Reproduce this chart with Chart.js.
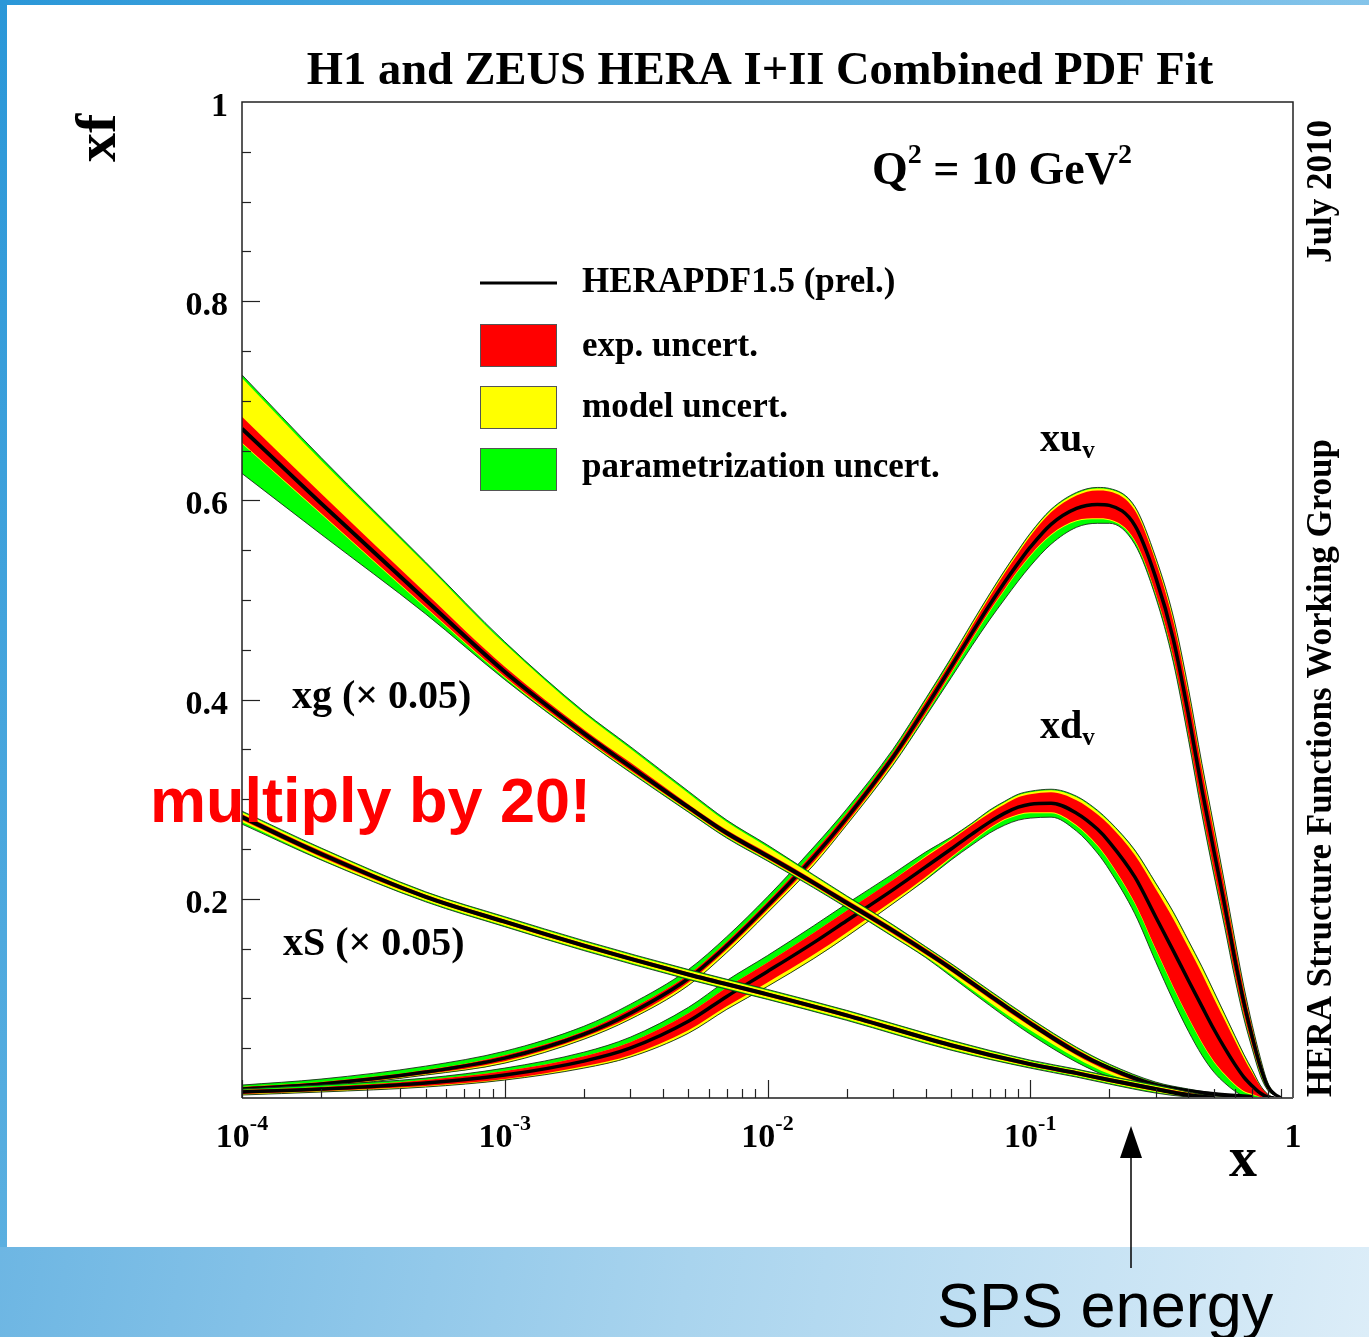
<!DOCTYPE html>
<html><head><meta charset="utf-8">
<script src="https://cdn.jsdelivr.net/npm/chart.js@4.4.1/dist/chart.umd.min.js"></script>
<style>
html,body{margin:0;padding:0;width:1369px;height:1337px;overflow:hidden;background:#fff;}
#bgTop{position:absolute;left:0;top:0;width:1369px;height:5px;background:linear-gradient(90deg,#2a97d8,#84c4ea);}
#bgLeft{position:absolute;left:0;top:0;width:7px;height:1247px;background:linear-gradient(180deg,#2a97d8,#5aafe0);}
#bgBottom{position:absolute;left:0;top:1247px;width:1369px;height:90px;background:linear-gradient(100deg,#6db6e3 0%,#a9d4ee 50%,#dcedf8 100%);}
#wrap{position:absolute;left:0;top:0;width:1369px;height:1337px;}
</style></head><body>
<div id="bgTop"></div><div id="bgLeft"></div><div id="bgBottom"></div>
<div id="wrap"><canvas id="c" width="1369" height="1337"></canvas></div>
<script>
// ---------------- data ----------------
// central values and uncertainty widths (exp = red, model = yellow, parametrization = green)
// xu_v
const xuvX      = [1e-4, 2e-4, 5e-4, 1e-3, 2e-3, 3e-3, 5e-3, 7e-3, 0.01, 0.015, 0.02, 0.03, 0.04, 0.05, 0.06, 0.07, 0.08, 0.09, 0.1, 0.12, 0.15, 0.18, 0.2, 0.25, 0.3, 0.35, 0.4, 0.45, 0.5, 0.55, 0.6, 0.65, 0.7, 0.75, 0.8, 0.85, 0.9];
const xuvC      = [0.009, 0.014, 0.026, 0.040, 0.064, 0.085, 0.120, 0.153, 0.193, 0.242, 0.281, 0.342, 0.392, 0.433, 0.467, 0.495, 0.518, 0.537, 0.553, 0.576, 0.592, 0.596, 0.595, 0.575, 0.523, 0.461, 0.385, 0.310, 0.248, 0.193, 0.140, 0.096, 0.061, 0.032, 0.012, 0.004, 0.000];
const xuvExpUp  = [0.002, 0.002, 0.002, 0.003, 0.003, 0.004, 0.004, 0.004, 0.004, 0.005, 0.005, 0.005, 0.006, 0.006, 0.007, 0.008, 0.009, 0.010, 0.011, 0.012, 0.013, 0.014, 0.014, 0.015, 0.016, 0.018, 0.020, 0.020, 0.019, 0.017, 0.015, 0.012, 0.009, 0.006, 0.003, 0.001, 0.000];
const xuvExpDn  = [0.002, 0.002, 0.002, 0.003, 0.003, 0.004, 0.004, 0.004, 0.004, 0.005, 0.005, 0.005, 0.006, 0.006, 0.006, 0.006, 0.007, 0.007, 0.008, 0.010, 0.012, 0.014, 0.014, 0.015, 0.016, 0.018, 0.020, 0.020, 0.019, 0.017, 0.015, 0.012, 0.009, 0.006, 0.003, 0.001, 0.000];
const xuvModUp  = [0.000, 0.000, 0.000, 0.000, 0.000, 0.000, 0.000, 0.000, 0.000, 0.000, 0.000, 0.000, 0.001, 0.001, 0.002, 0.002, 0.002, 0.002, 0.002, 0.002, 0.002, 0.002, 0.002, 0.003, 0.003, 0.004, 0.005, 0.005, 0.005, 0.004, 0.004, 0.003, 0.002, 0.002, 0.001, 0.000, 0.000];
const xuvModDn  = [0.001, 0.001, 0.001, 0.002, 0.002, 0.002, 0.003, 0.003, 0.003, 0.003, 0.002, 0.002, 0.001, 0.001, 0.001, 0.001, 0.001, 0.001, 0.001, 0.001, 0.001, 0.001, 0.001, 0.001, 0.001, 0.001, 0.001, 0.001, 0.001, 0.001, 0.001, 0.001, 0.001, 0.001, 0.000, 0.000, 0.000];
const xuvParUp  = [0.002, 0.003, 0.004, 0.004, 0.005, 0.005, 0.005, 0.005, 0.005, 0.005, 0.004, 0.003, 0.002, 0.002, 0.001, 0.001, 0.001, 0.001, 0.001, 0.001, 0.001, 0.001, 0.001, 0.001, 0.001, 0.001, 0.001, 0.001, 0.001, 0.001, 0.001, 0.001, 0.001, 0.001, 0.000, 0.000, 0.000];
const xuvParDn  = [0.000, 0.000, 0.000, 0.000, 0.000, 0.000, 0.000, 0.000, 0.000, 0.000, 0.000, 0.001, 0.002, 0.004, 0.006, 0.008, 0.009, 0.010, 0.010, 0.009, 0.006, 0.004, 0.003, 0.003, 0.003, 0.004, 0.004, 0.004, 0.004, 0.004, 0.003, 0.003, 0.002, 0.002, 0.001, 0.000, 0.000];

// xd_v
const xdvX      = [1e-4, 2e-4, 5e-4, 1e-3, 2e-3, 3e-3, 5e-3, 7e-3, 0.01, 0.015, 0.02, 0.03, 0.04, 0.05, 0.06, 0.07, 0.08, 0.09, 0.1, 0.12, 0.15, 0.18, 0.2, 0.25, 0.3, 0.35, 0.4, 0.45, 0.5, 0.55, 0.6, 0.65, 0.7, 0.75, 0.8, 0.85];
const xdvC      = [0.006, 0.009, 0.015, 0.023, 0.037, 0.050, 0.077, 0.102, 0.127, 0.156, 0.178, 0.209, 0.232, 0.250, 0.265, 0.277, 0.286, 0.292, 0.295, 0.296, 0.286, 0.270, 0.257, 0.222, 0.182, 0.148, 0.118, 0.092, 0.069, 0.050, 0.034, 0.021, 0.012, 0.005, 0.001, 0.000];
const xdvExpUp  = [0.002, 0.002, 0.003, 0.004, 0.005, 0.006, 0.008, 0.009, 0.009, 0.010, 0.010, 0.010, 0.010, 0.009, 0.009, 0.009, 0.009, 0.010, 0.010, 0.011, 0.013, 0.015, 0.017, 0.022, 0.028, 0.032, 0.033, 0.033, 0.031, 0.028, 0.024, 0.019, 0.013, 0.007, 0.003, 0.000];
const xdvExpDn  = [0.002, 0.002, 0.003, 0.004, 0.005, 0.007, 0.009, 0.010, 0.011, 0.012, 0.012, 0.011, 0.010, 0.008, 0.007, 0.006, 0.006, 0.007, 0.008, 0.009, 0.012, 0.016, 0.019, 0.026, 0.032, 0.036, 0.037, 0.036, 0.032, 0.026, 0.020, 0.014, 0.008, 0.004, 0.001, 0.000];
const xdvModUp  = [0.000, 0.000, 0.000, 0.000, 0.000, 0.000, 0.000, 0.000, 0.000, 0.000, 0.000, 0.000, 0.001, 0.001, 0.001, 0.002, 0.002, 0.002, 0.002, 0.002, 0.003, 0.003, 0.003, 0.004, 0.005, 0.006, 0.006, 0.006, 0.006, 0.005, 0.004, 0.003, 0.002, 0.001, 0.000, 0.000];
const xdvModDn  = [0.001, 0.001, 0.001, 0.001, 0.002, 0.002, 0.003, 0.003, 0.004, 0.004, 0.004, 0.003, 0.002, 0.001, 0.001, 0.001, 0.001, 0.001, 0.001, 0.001, 0.001, 0.001, 0.001, 0.001, 0.001, 0.001, 0.001, 0.001, 0.001, 0.001, 0.001, 0.001, 0.001, 0.000, 0.000, 0.000];
const xdvParUp  = [0.001, 0.002, 0.002, 0.003, 0.004, 0.005, 0.006, 0.007, 0.007, 0.007, 0.007, 0.006, 0.004, 0.002, 0.001, 0.001, 0.001, 0.001, 0.001, 0.001, 0.001, 0.001, 0.001, 0.001, 0.001, 0.001, 0.001, 0.001, 0.001, 0.001, 0.001, 0.001, 0.001, 0.000, 0.000, 0.000];
const xdvParDn  = [0.000, 0.000, 0.000, 0.000, 0.000, 0.000, 0.000, 0.000, 0.000, 0.000, 0.000, 0.000, 0.001, 0.002, 0.003, 0.004, 0.005, 0.005, 0.005, 0.004, 0.005, 0.007, 0.008, 0.010, 0.012, 0.013, 0.013, 0.012, 0.010, 0.008, 0.006, 0.004, 0.002, 0.001, 0.000, 0.000];

// xg (x 0.05)
const xgX       = [1e-4, 2e-4, 5e-4, 1e-3, 2e-3, 3e-3, 5e-3, 7e-3, 0.01, 0.015, 0.02, 0.03, 0.04, 0.05, 0.07, 0.1, 0.15, 0.2, 0.3, 0.4, 0.5, 0.7];
const xgC       = [0.672, 0.597, 0.500, 0.428, 0.366, 0.333, 0.292, 0.266, 0.243, 0.216, 0.196, 0.168, 0.147, 0.130, 0.103, 0.075, 0.046, 0.030, 0.013, 0.007, 0.004, 0.001];
const xgExpUp   = [0.012, 0.010, 0.007, 0.005, 0.004, 0.004, 0.003, 0.003, 0.003, 0.003, 0.003, 0.003, 0.003, 0.003, 0.003, 0.003, 0.003, 0.002, 0.002, 0.001, 0.001, 0.000];
const xgExpDn   = [0.014, 0.010, 0.007, 0.005, 0.004, 0.004, 0.003, 0.003, 0.003, 0.003, 0.003, 0.003, 0.003, 0.003, 0.003, 0.003, 0.003, 0.003, 0.002, 0.001, 0.001, 0.001];
const xgModUp   = [0.039, 0.033, 0.029, 0.023, 0.016, 0.014, 0.011, 0.008, 0.006, 0.004, 0.003, 0.002, 0.001, 0.001, 0.001, 0.001, 0.001, 0.001, 0.000, 0.000, 0.000, 0.000];
const xgModDn   = [0.001, 0.001, 0.001, 0.001, 0.001, 0.001, 0.001, 0.001, 0.001, 0.001, 0.001, 0.002, 0.002, 0.003, 0.004, 0.004, 0.003, 0.003, 0.001, 0.001, 0.001, 0.000];
const xgParUp   = [0.003, 0.003, 0.002, 0.002, 0.002, 0.002, 0.002, 0.002, 0.002, 0.001, 0.001, 0.001, 0.001, 0.001, 0.001, 0.001, 0.001, 0.001, 0.001, 0.001, 0.000, 0.000];
const xgParDn   = [0.030, 0.020, 0.006, 0.002, 0.001, 0.001, 0.001, 0.001, 0.001, 0.001, 0.001, 0.001, 0.001, 0.002, 0.003, 0.004, 0.004, 0.003, 0.002, 0.001, 0.000, 0.000];

// xS (x 0.05)
const xsX       = [1e-4, 2e-4, 5e-4, 1e-3, 2e-3, 5e-3, 0.01, 0.02, 0.05, 0.1, 0.15, 0.2, 0.3, 0.4, 0.5];
const xsC       = [0.282, 0.245, 0.202, 0.177, 0.153, 0.124, 0.104, 0.083, 0.053, 0.034, 0.025, 0.018, 0.009, 0.003, 0.000];
const xsExpUp   = [0.003, 0.003, 0.002, 0.002, 0.002, 0.002, 0.002, 0.002, 0.002, 0.002, 0.002, 0.002, 0.002, 0.002, 0.001];
const xsExpDn   = [0.003, 0.003, 0.002, 0.002, 0.002, 0.002, 0.002, 0.002, 0.002, 0.002, 0.002, 0.002, 0.002, 0.001, 0.000];
const xsModUp   = [0.002, 0.002, 0.002, 0.002, 0.002, 0.002, 0.002, 0.002, 0.002, 0.001, 0.001, 0.001, 0.001, 0.001, 0.000];
const xsModDn   = [0.002, 0.002, 0.002, 0.002, 0.002, 0.002, 0.002, 0.002, 0.002, 0.001, 0.001, 0.001, 0.001, 0.001, 0.000];
const xsParUp   = [0.001, 0.001, 0.001, 0.001, 0.001, 0.001, 0.001, 0.001, 0.001, 0.001, 0.001, 0.001, 0.001, 0.000, 0.000];
const xsParDn   = [0.002, 0.001, 0.001, 0.001, 0.001, 0.001, 0.001, 0.001, 0.001, 0.001, 0.001, 0.001, 0.001, 0.000, 0.000];

// axes / ticks
const yTickValues = [0.2, 0.4, 0.6, 0.8, 1];
const yTickLabels = ['0.2', '0.4', '0.6', '0.8', '1'];
const xTickValues = [1e-4, 1e-3, 1e-2, 1e-1, 1];
const xTickBase   = ['10', '10', '10', '10', '1'];
const xTickExp    = ['-4', '-3', '-2', '-1', ''];

// texts
const titleText   = 'H1 and ZEUS HERA I+II Combined PDF Fit';
const legendTexts = ['HERAPDF1.5 (prel.)', 'exp. uncert.', 'model uncert.', 'parametrization uncert.'];
const sideTexts   = ['July 2010', 'HERA Structure Functions Working Group'];

// ---------------- build datasets ----------------
const RED = '#ff0000', YEL = '#ffff00', GRN = '#00ff00', EDGE = 'rgba(25,45,25,0.9)';
const curves = [
  {x: xuvX, c: xuvC, eu: xuvExpUp, ed: xuvExpDn, mu: xuvModUp, md: xuvModDn, pu: xuvParUp, pd: xuvParDn, w: 3.5},
  {x: xdvX, c: xdvC, eu: xdvExpUp, ed: xdvExpDn, mu: xdvModUp, md: xdvModDn, pu: xdvParUp, pd: xdvParDn, w: 3.5},
  {x: xgX,  c: xgC,  eu: xgExpUp,  ed: xgExpDn,  mu: xgModUp,  md: xgModDn,  pu: xgParUp,  pd: xgParDn,  w: 4},
  {x: xsX,  c: xsC,  eu: xsExpUp,  ed: xsExpDn,  mu: xsModUp,  md: xsModDn,  pu: xsParUp,  pd: xsParDn,  w: 4}
];
const datasets = [];
let seq = 0;
function pts(xs, ys) { return xs.map((x, i) => ({x: x, y: ys[i]})); }
function addLine(xs, ys, color, width, fillTarget, fillColor) {
  datasets.push({
    data: pts(xs, ys),
    borderColor: width > 0 ? color : 'rgba(0,0,0,0)',
    borderWidth: width > 0 ? width : 0.01,
    pointRadius: 0, pointHoverRadius: 0,
    cubicInterpolationMode: 'monotone',
    fill: fillTarget === undefined ? false : fillTarget,
    backgroundColor: fillColor || 'rgba(0,0,0,0)',
    order: 10000 - (seq++)
  });
  return datasets.length - 1;
}
curves.forEach(cv => {
  // stacked band edges: exp around central, model outside exp, parametrization outside model
  const rHi = cv.c.map((v, i) => v + cv.eu[i]);
  const rLo = cv.c.map((v, i) => v - cv.ed[i]);
  const yHi = rHi.map((v, i) => v + cv.mu[i]);
  const yLo = rLo.map((v, i) => v - cv.md[i]);
  const gHi = yHi.map((v, i) => v + cv.pu[i]);
  const gLo = yLo.map((v, i) => v - cv.pd[i]);
  const g = addLine(cv.x, gLo, null, 0);
  addLine(cv.x, gHi, null, 0, g, GRN);
  const y = addLine(cv.x, yLo, null, 0);
  addLine(cv.x, yHi, null, 0, y, YEL);
  const r = addLine(cv.x, rLo, null, 0);
  addLine(cv.x, rHi, null, 0, r, RED);
  addLine(cv.x, gLo, EDGE, 1);
  addLine(cv.x, gHi, EDGE, 1);
  addLine(cv.x, cv.c, '#000000', cv.w);
});

// ---------------- decorations ----------------
const SERIF = '"Liberation Serif","Times New Roman",Times,serif';
const SANS  = '"Liberation Sans",Arial,Helvetica,sans-serif';

function drawParts(ctx, parts, x, y, align) {
  let w = 0;
  parts.forEach(p => { ctx.font = 'bold ' + p.size + 'px ' + SERIF; p.w = ctx.measureText(p.t).width; w += p.w; });
  let cx = align === 'center' ? x - w / 2 : (align === 'right' ? x - w : x);
  ctx.textAlign = 'left'; ctx.textBaseline = 'alphabetic';
  parts.forEach(p => { ctx.font = 'bold ' + p.size + 'px ' + SERIF; ctx.fillText(p.t, cx, y + (p.dy || 0)); cx += p.w; });
}
function rotText(ctx, s, x, y, font) {
  ctx.save(); ctx.translate(x, y); ctx.rotate(-Math.PI / 2);
  ctx.font = font; ctx.textAlign = 'left'; ctx.textBaseline = 'alphabetic';
  ctx.fillText(s, 0, 0); ctx.restore();
}

const deco = {
  id: 'deco',
  afterDraw(chart) {
    const ctx = chart.ctx, xs = chart.scales.x, ys = chart.scales.y, a = chart.chartArea;
    ctx.save();
    ctx.fillStyle = '#000';
    // frame
    ctx.strokeStyle = '#222'; ctx.lineWidth = 1.5;
    ctx.beginPath(); ctx.moveTo(a.left, a.bottom); ctx.lineTo(a.left, a.top); ctx.lineTo(a.right, a.top); ctx.lineTo(a.right, a.bottom); ctx.stroke();
    ctx.strokeStyle = '#555'; ctx.lineWidth = 2;
    ctx.beginPath(); ctx.moveTo(a.left, a.bottom); ctx.lineTo(a.right, a.bottom); ctx.stroke();
    // y ticks
    ctx.strokeStyle = '#222'; ctx.lineWidth = 1.2;
    for (let k = 1; k < 20; k++) {
      const v = k * 0.05, py = Math.round(ys.getPixelForValue(v)) + 0.5;
      const len = (k % 4 === 0) ? 18 : 9;
      ctx.beginPath(); ctx.moveTo(a.left, py); ctx.lineTo(a.left + len, py); ctx.stroke();
    }
    // x ticks
    for (let d = -4; d < 0; d++) {
      for (let m = 1; m < 10; m++) {
        const v = m * Math.pow(10, d), px = Math.round(xs.getPixelForValue(v)) + 0.5;
        const len = m === 1 ? 18 : 9;
        ctx.beginPath(); ctx.moveTo(px, a.bottom); ctx.lineTo(px, a.bottom - len); ctx.stroke();
      }
    }
    // y tick labels
    ctx.font = 'bold 34px ' + SERIF; ctx.textAlign = 'right'; ctx.textBaseline = 'alphabetic';
    yTickValues.forEach((v, i) => { ctx.fillText(yTickLabels[i], 228, ys.getPixelForValue(v) + 14); });
    // x tick labels
    xTickValues.forEach((v, i) => {
      const px = xs.getPixelForValue(v);
      const parts = [{t: xTickBase[i], size: 34}];
      if (xTickExp[i]) parts.push({t: xTickExp[i], size: 22, dy: -17});
      drawParts(ctx, parts, px, 1147, 'center');
    });
    // axis titles
    ctx.font = 'bold 56px ' + SERIF; ctx.textAlign = 'left';
    ctx.fillText('x', 1229, 1176);
    rotText(ctx, 'xf', 115, 162, 'bold 58px ' + SERIF);
    // title
    ctx.font = 'bold 46.5px ' + SERIF; ctx.textAlign = 'center';
    ctx.fillText(titleText, 760, 84);
    // Q^2
    drawParts(ctx, [{t: 'Q', size: 46}, {t: '2', size: 28, dy: -21}, {t: ' = 10 GeV', size: 46}, {t: '2', size: 28, dy: -21}], 872, 184, 'left');
    // side texts
    rotText(ctx, sideTexts[0], 1331, 263, 'bold 35px ' + SERIF);
    rotText(ctx, sideTexts[1], 1331, 1097, 'bold 35px ' + SERIF);
    // legend
    ctx.strokeStyle = '#000'; ctx.lineWidth = 3;
    ctx.beginPath(); ctx.moveTo(480, 283); ctx.lineTo(557, 283); ctx.stroke();
    [[RED, 324], [YEL, 386], [GRN, 448]].forEach(b => {
      ctx.fillStyle = b[0]; ctx.fillRect(480, b[1], 77, 43);
      ctx.strokeStyle = '#555'; ctx.lineWidth = 1; ctx.strokeRect(480.5, b[1] + 0.5, 76, 42);
    });
    ctx.fillStyle = '#000'; ctx.font = 'bold 35px ' + SERIF; ctx.textAlign = 'left';
    [292, 356, 417, 477].forEach((by, i) => ctx.fillText(legendTexts[i], 582, by));
    // curve labels
    drawParts(ctx, [{t: 'xu', size: 40}, {t: 'v', size: 25, dy: 7}], 1040, 451, 'left');
    drawParts(ctx, [{t: 'xd', size: 40}, {t: 'v', size: 25, dy: 7}], 1040, 738, 'left');
    drawParts(ctx, [{t: 'xg (\u00d7 0.05)', size: 40}], 292, 708, 'left');
    drawParts(ctx, [{t: 'xS (\u00d7 0.05)', size: 40}], 283, 955, 'left');
    // multiply by 20!
    ctx.fillStyle = '#ff0000'; ctx.font = 'bold 63px ' + SANS; ctx.textAlign = 'left';
    ctx.fillText('multiply by 20!', 150, 822);
    // SPS energy arrow
    ctx.fillStyle = '#000'; ctx.strokeStyle = '#000'; ctx.lineWidth = 1.5;
    ctx.beginPath(); ctx.moveTo(1131, 1268); ctx.lineTo(1131, 1150); ctx.stroke();
    ctx.beginPath(); ctx.moveTo(1131, 1126); ctx.lineTo(1142, 1158); ctx.lineTo(1120, 1158); ctx.closePath(); ctx.fill();
    ctx.font = '63px ' + SANS; ctx.textAlign = 'left';
    ctx.fillText('SPS energy', 937, 1327);
    ctx.restore();
  }
};

new Chart(document.getElementById('c'), {
  type: 'line',
  data: {datasets: datasets},
  options: {
    responsive: false, animation: false, events: [],
    layout: {padding: {left: 242, top: 102, right: 76, bottom: 239}},
    scales: {
      x: {type: 'logarithmic', min: 1e-4, max: 1, display: false},
      y: {type: 'linear', min: 0, max: 1, display: false}
    },
    plugins: {
      legend: {display: false}, tooltip: {enabled: false},
      filler: {drawTime: 'beforeDatasetDraw', propagate: false}
    }
  },
  plugins: [deco]
});
</script>
</body></html>
